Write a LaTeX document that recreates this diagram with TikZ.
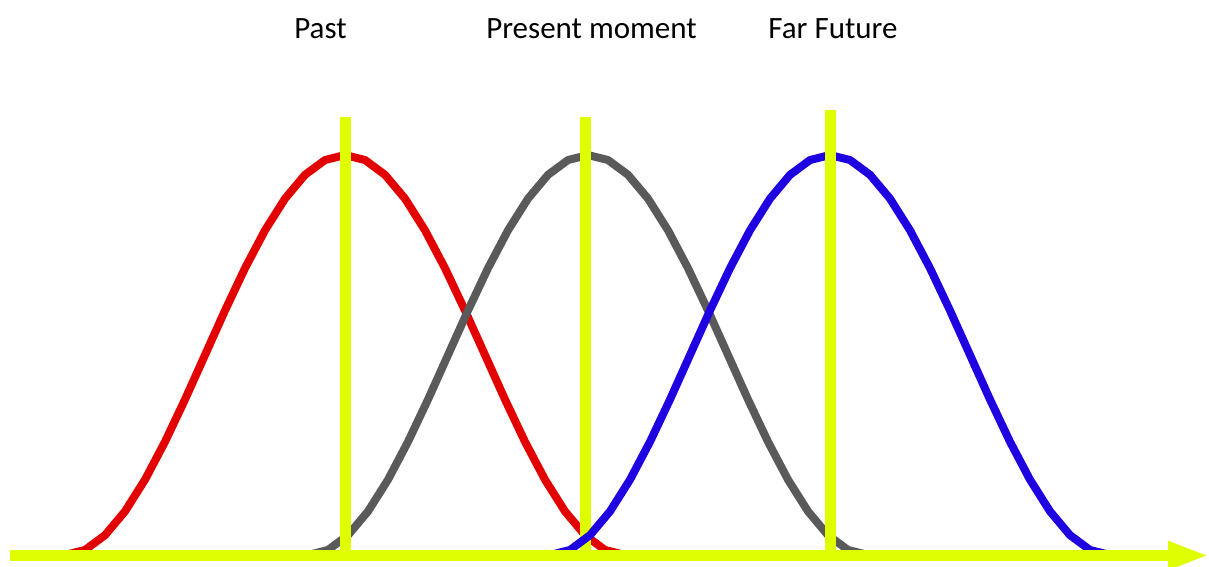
\documentclass[tikz,border=0pt]{standalone}
\usepackage{fontspec}
\setmainfont{Carlito}
\usetikzlibrary{arrows.meta}
\definecolor{markyellow}{RGB}{223,255,0}
\definecolor{pastred}{RGB}{226,0,0}
\definecolor{nowgray}{RGB}{90,90,90}
\definecolor{futureblue}{RGB}{30,0,224}
\tikzset{
    marker/.style={draw=markyellow, line width=5.5pt},
    timeline/.style={draw=markyellow, line width=5.5pt, -{Triangle[length=20.5pt, width=13pt]}},
    bellcurve/.style={line width=4pt, line join=round},
    timelabel/.style={anchor=base, inner sep=0pt, font=\fontsize{15.5pt}{18pt}\selectfont}
}

\begin{document}
\begin{tikzpicture}[x=0.5pt, y=-0.5pt]
  \useasboundingbox (0,0) rectangle (1209,567);
  % labels
  \node[timelabel] (past) at (320.5, 39) {Past};
  \node[timelabel] (present) at (591.5, 39) {Present moment};
  \node[timelabel] (future) at (833, 39) {Far Future};
  % marker ends
  \coordinate (pasttop) at (345.5, 117);
  \coordinate (pastbot) at (345.5, 550);
  \coordinate (presenttop) at (585.5, 117);
  \coordinate (presentbot) at (585.5, 550);
  \coordinate (futuretop) at (830, 110);
  \coordinate (futurebot) at (830, 550);
  \coordinate (axisstart) at (10, 555.5);
  \coordinate (axisend) at (1209, 555.5);
  % curves and markers
  \draw[bellcurve, draw=pastred] plot[domain=-280:280, samples=29] ({345+\x}, {555-200*(1+cos(\x/280*180))});
  \draw[bellcurve, draw=nowgray] plot[domain=-280:280, samples=29] ({588+\x}, {555-200*(1+cos(\x/280*180))});
  \draw[marker] (pasttop) -- (pastbot);
  \draw[marker] (presenttop) -- (presentbot);
  \draw[bellcurve, draw=futureblue] plot[domain=-280:280, samples=29] ({830+\x}, {555-200*(1+cos(\x/280*180))});
  \draw[marker] (futuretop) -- (futurebot);
  % time axis
  \draw[timeline] (axisstart) -- (axisend);
\end{tikzpicture}
\end{document}
